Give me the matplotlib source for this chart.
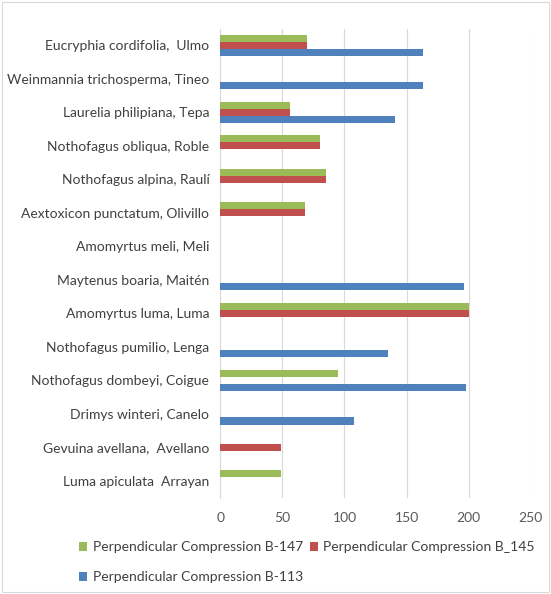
import numpy as np
import matplotlib.pyplot as plt
from matplotlib.patches import Rectangle

plt.rcParams['font.family'] = ['Lato', 'DejaVu Sans']

species = [
    "Eucryphia cordifolia,  Ulmo",
    "Weinmannia trichosperma, Tineo",
    "Laurelia philipiana, Tepa",
    "Nothofagus obliqua, Roble",
    "Nothofagus alpina, Raulí",
    "Aextoxicon punctatum, Olivillo",
    "Amomyrtus meli, Meli",
    "Maytenus boaria, Maitén",
    "Amomyrtus luma, Luma",
    "Nothofagus pumilio, Lenga",
    "Nothofagus dombeyi, Coigue",
    "Drimys winteri, Canelo",
    "Gevuina avellana,  Avellano",
    "Luma apiculata  Arrayan",
]
b147 = [70, 0, 56, 80, 85, 68, 0, 0, 200, 0, 95, 0, 0, 49]
b145 = [70, 0, 56, 80, 85, 68, 0, 0, 200, 0, 0, 0, 49, 0]
b113 = [163, 163, 141, 0, 0, 0, 0, 196, 0, 135, 198, 108, 0, 0]

series = [
    ("Perpendicular Compression B-147", b147, "#9bbb59"),
    ("Perpendicular Compression B_145", b145, "#c0504d"),
    ("Perpendicular Compression B-113", b113, "#4f81bd"),
]

fig = plt.figure(figsize=(5.51, 5.94), dpi=100)
ax = fig.add_axes([0.40, 0.162, 0.563, 0.790])

n = len(species)
y = np.arange(n)[::-1]
h = 0.21
bars = []
for i, (name, vals, col) in enumerate(series):
    bars.append(ax.barh(y + h * (1 - i), vals, height=h, color=col, label=name, zorder=3))

ax.set_xlim(0, 250)
ax.set_ylim(-0.5, n - 0.5)
ax.set_xticks(range(0, 251, 50))
ax.set_yticks(y)
ax.set_yticklabels(species, fontsize=10, color="#404040")
ax.tick_params(axis='x', labelsize=10, labelcolor="#595959", length=0, pad=10)
ax.tick_params(axis='y', length=0, pad=8)
ax.grid(axis='x', color="#d9d9d9", linewidth=0.8, zorder=0)
for s in ['top', 'right', 'bottom']:
    ax.spines[s].set_visible(False)
ax.spines['left'].set_color("#d9d9d9")

# column-wise fill: B-147 and B-113 in the first column, B_145 in the second
order = [0, 2, 1]
ax.legend([bars[i] for i in order], [series[i][0] for i in order],
          loc='upper left', bbox_to_anchor=(0.12, 0.11), bbox_transform=fig.transFigure,
          ncol=2, frameon=False, fontsize=10, handlelength=0.6, handleheight=0.6,
          handletextpad=0.4, columnspacing=0.5, labelspacing=1.3, labelcolor="#404040")

fig.patches.append(Rectangle((0.004, 0.003), 0.992, 0.994, transform=fig.transFigure,
                             fill=False, edgecolor="#d9d9d9", linewidth=0.8))

fig.savefig("out.png", dpi=100, facecolor="white")
